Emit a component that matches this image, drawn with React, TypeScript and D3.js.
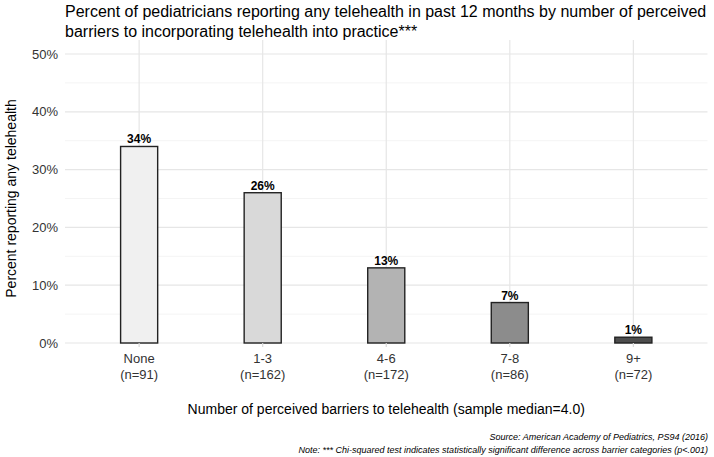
import * as d3 from "d3";

const categories = ["None", "1-3", "4-6", "7-8", "9+"];
const sampleSizes = ["(n=91)", "(n=162)", "(n=172)", "(n=86)", "(n=72)"];
const percents = [34, 26, 13, 7, 1];
const barFills = ["#f0f0f0", "#d9d9d9", "#b3b3b3", "#8c8c8c", "#4d4d4d"];
const yMajorTicks = [0, 10, 20, 30, 40, 50];
const yMinorTicks = [5, 15, 25, 35, 45];

const W = 714;
const H = 457;
const margin = { top: 54, right: 6.5, bottom: 114, left: 65 };

export default function App() {
  // ggplot-ish discrete axis: 0.6 expansion each side, bar width 0.3 of a step
  const x = d3
    .scalePoint<string>()
    .domain(categories)
    .range([margin.left, W - margin.right])
    .padding(0.6);
  const barW = x.step() * 0.3;

  const y = d3.scaleLinear().domain([0, 50]).range([H - margin.bottom, margin.top]);
  const font = "'Liberation Sans', Arial, sans-serif";

  return (
    <svg
      width={W}
      height={H}
      style={{ position: "absolute", left: 0, top: 0, background: "#fff" }}
      fontFamily={font}
    >
      {/* title */}
      <text x={margin.left} y={17} fontSize={16} fill="#000">
        Percent of pediatricians reporting any telehealth in past 12 months by number of perceived
      </text>
      <text x={margin.left} y={37} fontSize={16} fill="#000">
        barriers to incorporating telehealth into practice***
      </text>

      {/* grid */}
      {yMinorTicks.map((t) => (
        <line key={"m" + t} x1={margin.left} x2={W - margin.right} y1={y(t)} y2={y(t)} stroke="#f4f4f4" strokeWidth={1} />
      ))}
      {yMajorTicks.map((t) => (
        <line key={"M" + t} x1={margin.left} x2={W - margin.right} y1={y(t)} y2={y(t)} stroke="#e6e6e6" strokeWidth={1.2} />
      ))}
      {categories.map((c) => (
        <line key={"v" + c} x1={x(c)} x2={x(c)} y1={margin.top - 14} y2={y(0)} stroke="#e6e6e6" strokeWidth={1.2} />
      ))}

      {/* bars */}
      {categories.map((c, i) => (
        <rect
          key={c}
          x={x(c)! - barW / 2}
          y={y(percents[i])}
          width={barW}
          height={y(0) - y(percents[i])}
          fill={barFills[i]}
          stroke="#222"
          strokeWidth={1.4}
        />
      ))}
      {categories.map((c, i) => (
        <text
          key={"l" + c}
          x={x(c)}
          y={y(percents[i]) - 3}
          textAnchor="middle"
          fontSize={12}
          fontWeight="bold"
          fill="#000"
        >
          {percents[i]}%
        </text>
      ))}

      {/* y axis labels */}
      {yMajorTicks.map((t) => (
        <text key={"yl" + t} x={58} y={y(t)} dy="0.35em" textAnchor="end" fontSize={13} fill="#333">
          {t}%
        </text>
      ))}
      <text
        transform={`translate(16,${(y(0) + y(50)) / 2}) rotate(-90)`}
        textAnchor="middle"
        fontSize={14}
        fill="#000"
      >
        Percent reporting any telehealth
      </text>

      {/* x axis ticks and labels */}
      {categories.map((c, i) => (
        <g key={"x" + c}>
          <line x1={x(c)} x2={x(c)} y1={y(0)} y2={y(0) + 4} stroke="#d9d9d9" strokeWidth={1.2} />
          <text x={x(c)} y={y(0) + 20} textAnchor="middle" fontSize={13} fill="#333">
            {c}
          </text>
          <text x={x(c)} y={y(0) + 36} textAnchor="middle" fontSize={13} fill="#333">
            {sampleSizes[i]}
          </text>
        </g>
      ))}
      <text x={(margin.left + W - margin.right) / 2} y={y(0) + 71} textAnchor="middle" fontSize={14} fill="#000">
        Number of perceived barriers to telehealth (sample median=4.0)
      </text>

      {/* caption */}
      <text x={W - 6} y={H - 17} textAnchor="end" fontSize={9} fontStyle="italic" fill="#000">
        Source: American Academy of Pediatrics, PS94 (2016)
      </text>
      <text x={W - 6} y={H - 4} textAnchor="end" fontSize={9} fontStyle="italic" fill="#000">
        Note: *** Chi-squared test indicates statistically significant difference across barrier categories (p&lt;.001)
      </text>
    </svg>
  );
}
